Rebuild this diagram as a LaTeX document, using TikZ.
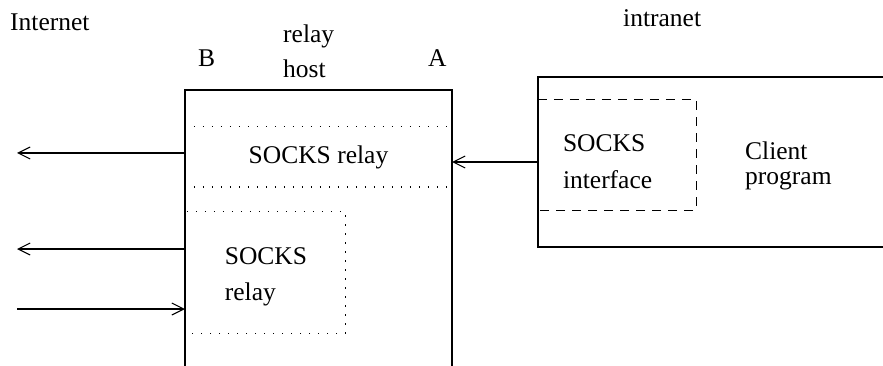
\documentclass[tikz,border=0pt]{standalone}
\usepackage{fontspec}
\setmainfont{Liberation Serif}
\usetikzlibrary{arrows.meta}
\begin{document}
\begin{tikzpicture}[x=1pt,y=-1pt,
  txt/.style={inner sep=0pt, align=left, font=\fontsize{25.5}{36}\selectfont},
  lbl/.style={txt, anchor=base west},
  wall/.style={line width=1.3pt},
  dotline/.style={line width=1.4pt, dash pattern=on 1.4pt off 7.6pt},
  dashline/.style={line width=1.3pt, dash pattern=on 9pt off 7pt},
  arr/.style={-{Straight Barb[length=12pt,width=12pt,line width=1.1pt]}, line width=1.1pt}
]
\useasboundingbox (0,0) rectangle (883,366);
% relay host, open at the bottom
\coordinate (hostNW) at (185,90);
\coordinate (hostNE) at (452,90);
\draw[wall] (hostNW |- 0,366) -- (hostNW) -- (hostNE) -- (hostNE |- 0,366);
\node[txt, minimum width=267pt, minimum height=60pt] (band) at (318.5,157) {SOCKS relay};
\draw[dotline] (band.north west) -- (band.north east);
\draw[dotline] (band.south west) -- (band.south east);
\node[txt, minimum width=158pt, minimum height=121pt] (relay) at (266,272.5) {\rule{0pt}{26pt}SOCKS\\relay};
\draw[dotline] (relay.north west) -- (relay.north east) -- (relay.south east) -- (relay.south west);
% client side
\coordinate (cliNW) at (538,77);
\coordinate (cliSW) at (538,247);
\draw[wall] (cliNW -| 883,0) -- (cliNW) -- (cliSW) -- (cliSW -| 883,0);
\node[txt, text width=108pt, inner xsep=25pt, minimum height=110pt] (iface) at (617,155) {\rule{0pt}{31pt}SOCKS\\[1pt]interface};
\draw[dashline] (iface.north west) -- (iface.north east) -- (iface.south east) -- (iface.south west);
\node[lbl] (client) at (745,185) {Client\\[-11pt]program};
% labels
\node[lbl] (inet) at (10,31) {Internet};
\node[lbl] (intra) at (623,27) {intranet};
\node[lbl] (host) at (283,78) {relay\\[-1pt]host};
\node[lbl] (portB) at (198,67) {B};
\node[lbl] (portAlbl) at (428,67) {A};
% connectors
\coordinate (portA) at (452,162);
\coordinate (out1) at (17,153);
\coordinate (out2) at (17,249);
\coordinate (in3) at (17,309);
\draw[arr] (iface.west |- portA) -- (portA);
\draw[arr] (band.west |- out1) -- (out1);
\draw[arr] (hostNW |- out2) -- (out2);
\draw[arr] (in3) -- (hostNW |- in3);
\end{tikzpicture}
\end{document}
